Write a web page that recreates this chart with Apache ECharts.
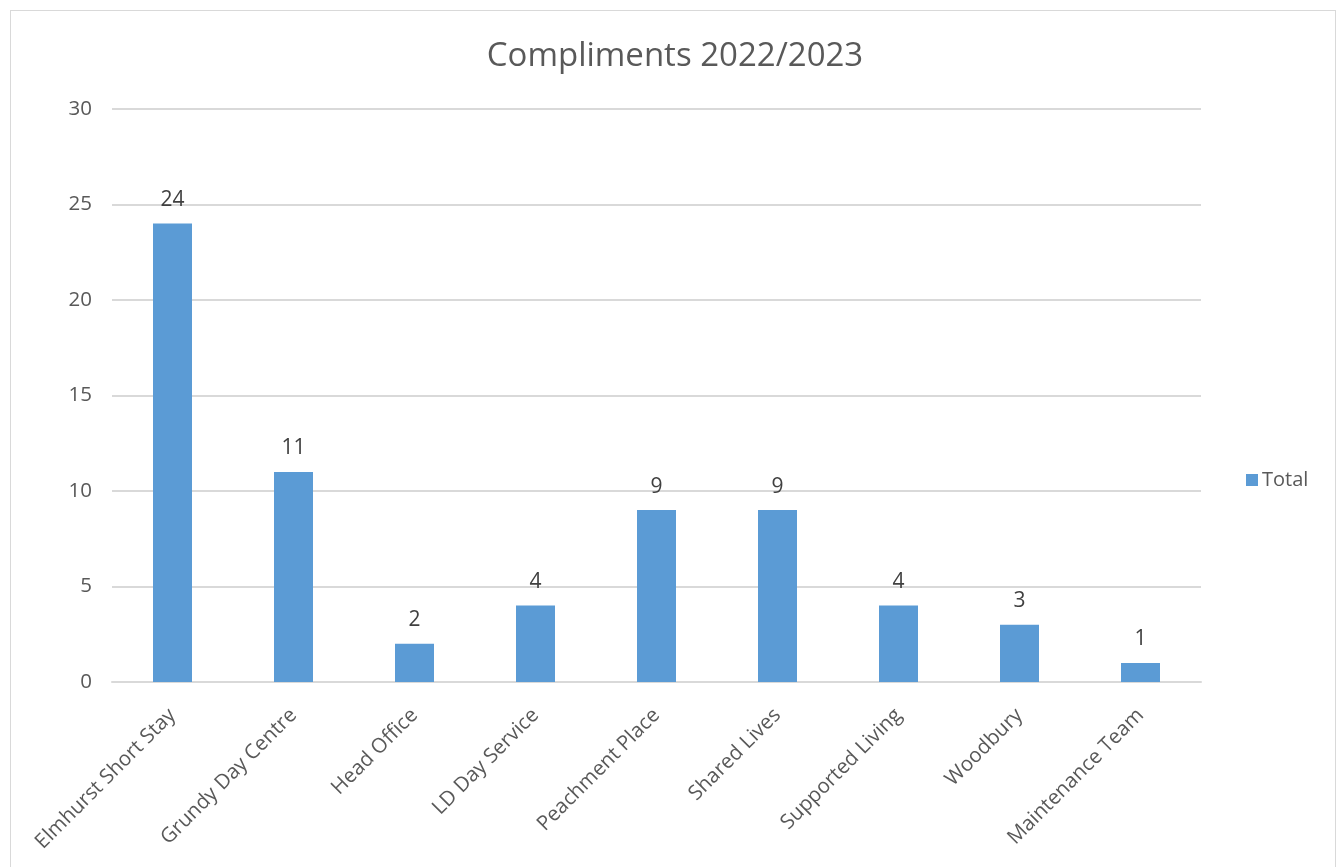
<!DOCTYPE html>
<html>
<head>
<meta charset="utf-8">
<script src="https://cdn.jsdelivr.net/npm/echarts@6/dist/echarts.min.js"></script>
<style>
html,body{margin:0;padding:0;background:#fff;}
#chart{width:1338px;height:867px;position:relative;}
#frame{position:absolute;left:10px;top:10px;width:1326px;height:900px;border:1.5px solid #D9D9D9;box-sizing:border-box;pointer-events:none;}
</style>
</head>
<body>
<div style="position:relative;width:1338px;height:867px;overflow:hidden;">
<div id="chart"></div>
<div id="frame"></div>
</div>
<script>
const categories = ["Elmhurst Short Stay","Grundy Day Centre","Head Office","LD Day Service","Peachment Place","Shared Lives","Supported Living","Woodbury","Maintenance Team"];
const totals = [24, 11, 2, 4, 9, 9, 4, 3, 1];
const yTicks = {min: 0, max: 30, interval: 5};
const font = "'Open Sans', 'Noto Sans', sans-serif";

const chart = echarts.init(document.getElementById('chart'));
chart.setOption({
  animation: false,
  backgroundColor: '#fff',
  title: {
    text: 'Compliments 2022/2023',
    left: 670, top: 35, textAlign: 'center',
    textStyle: {fontFamily: font, fontSize: 33, fontWeight: 'normal', color: '#595959'}
  },
  legend: {
    data: ['Total'], orient: 'vertical', left: 1241, top: 465,
    itemWidth: 12, itemHeight: 12, itemGap: 6, icon: 'rect',
    textStyle: {fontFamily: font, fontSize: 20, color: '#595959', padding: [0,0,0,-1]}
  },
  grid: {left: 112, right: 137, top: 109, bottom: 185, containLabel: false},
  xAxis: {
    type: 'category', data: categories,
    axisLine: {lineStyle: {color: '#D9D9D9', width: 2}},
    axisTick: {show: false},
    axisLabel: {rotate: 45, margin: 30, interval: 0, fontFamily: font, fontSize: 20.5, color: '#595959'}
  },
  yAxis: {
    type: 'value', min: yTicks.min, max: yTicks.max, interval: yTicks.interval,
    axisLine: {show: false}, axisTick: {show: false},
    splitLine: {lineStyle: {color: '#D9D9D9', width: 2}},
    axisLabel: {margin: 20, fontFamily: font, fontSize: 20.5, color: '#595959'}
  },
  series: [{
    name: 'Total', type: 'bar', data: totals, barWidth: 39,
    itemStyle: {color: '#5B9BD5'},
    label: {show: true, position: 'top', distance: 13, fontFamily: font, fontSize: 21, color: '#404040'}
  }]
});
</script>
</body>
</html>
